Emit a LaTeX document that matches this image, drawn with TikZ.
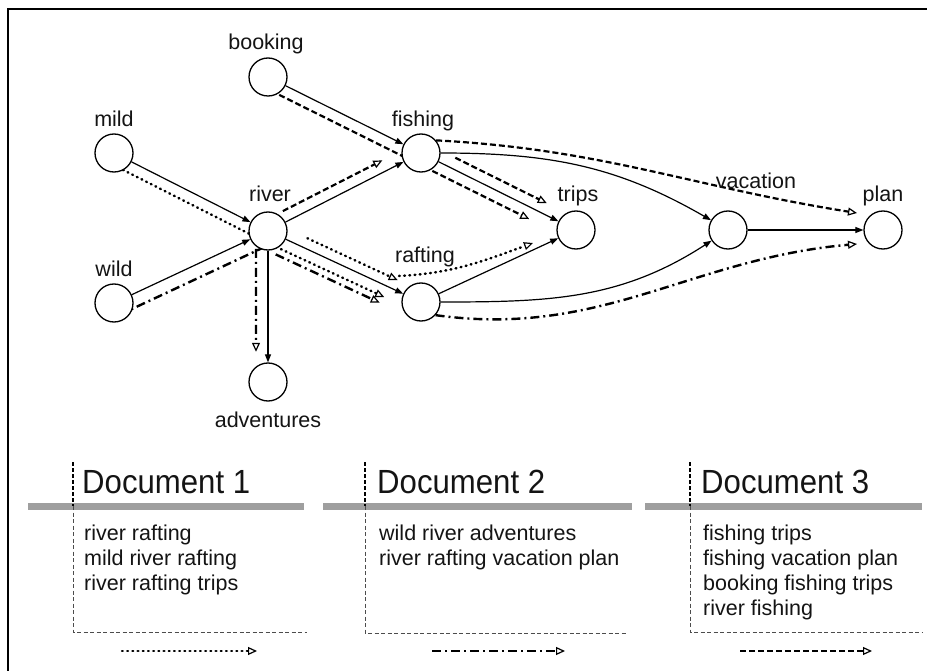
\documentclass[tikz,border=0pt]{standalone}
\usepackage{fontspec}
\setmainfont{Liberation Sans}
\newfontfamily\titlefont[FakeStretch=0.93]{Liberation Sans}
\usetikzlibrary{arrows.meta,calc}
\pgfdeclarelayer{bg}
\pgfsetlayers{bg,main}
\tikzset{
  word/.style={circle,draw=black,line width=1.3pt,minimum size=38pt,inner sep=0pt,fill=white},
  lbl/.style={font=\fontsize{21.5}{25}\selectfont,inner sep=0pt,text=black!92,anchor=base},
  listtext/.style={font=\fontsize{21.5}{25}\selectfont,inner sep=0pt,text=black!92,anchor=base west},
  doctitle/.style={font=\titlefont\fontsize{33.5}{40}\selectfont,inner sep=0pt,text=black!92,anchor=base west},
  link/.style={line width=1.2pt,-{Triangle[length=8pt,width=6pt]}},
  doctip/.style={-{Triangle[open,length=9pt,width=8pt,line width=1.2pt]}},
  dotpath/.style={line width=2.5pt,line cap=round,dash pattern=on 0.8pt off 4.4pt},
  dashdotpath/.style={line width=2.4pt,dash pattern=on 9pt off 4pt on 2pt off 4pt},
  dashpath/.style={line width=2.2pt,dash pattern=on 6pt off 3pt},
  grayrule/.style={line width=7pt,gray!75},
  topdash/.style={line width=1.6pt,dash pattern=on 4pt off 2pt},
  boxdash/.style={line width=0.8pt,black!70,dash pattern=on 4pt off 2.5pt}
}
\begin{document}
\begin{tikzpicture}[x=1pt,y=-1pt]
\useasboundingbox (0,0) rectangle (927,671);
% frame
\draw[line width=2.5pt] (8,671) -- (8,9) -- (927,9);

% word nodes
\node[word] (booking) at (268,77) {};
\node[word] (mild) at (114,153) {};
\node[word] (wild) at (114,303) {};
\node[word] (river) at (268,231) {};
\node[word] (fishing) at (421,153) {};
\node[word] (trips) at (576,230) {};
\node[word] (rafting) at (421,302) {};
\node[word] (adventures) at (268,382) {};
\node[word] (vacation) at (728,230) {};
\node[word] (plan) at (883,230) {};

% labels
\node[lbl] (lbooking) at (266,50) {booking};
\node[lbl] (lmild) at (114,127) {mild};
\node[lbl] (lwild) at (114,277) {wild};
\node[lbl] (lriver) at (270,202) {river};
\node[lbl] (lfishing) at (423,127) {fishing};
\node[lbl] (ltrips) at (578,202) {trips};
\node[lbl] (lrafting) at (425,263) {rafting};
\node[lbl] (ladventures) at (268,427) {adventures};
\node[lbl] (lvacation) at (756,189) {vacation};
\node[lbl] (lplan) at (883,202) {plan};

% solid graph edges
\draw[link] (booking) -- (fishing);
\draw[link] (mild) -- (river);
\draw[link] (wild) -- (river);
\draw[link] (river) -- (fishing);
\draw[link] (river) -- (rafting);
\draw[link] (river) -- (adventures);
\draw[link] (fishing) -- (trips);
\draw[link] (rafting) -- (trips);
\draw[link] (fishing) to[out=0,in=150] (vacation);
\draw[link] (rafting) to[out=0,in=213] (vacation);
\draw[link] (vacation) -- (plan);

\begin{pgfonlayer}{bg}
\fill[white] (0,0) rectangle (927,671);
% Document 1 (dotted)
\draw[dotpath,doctip] ($(mild)!11pt!-90:(river)$) -- ($(river)!11pt!90:(mild)$) -- ($(river)!11pt!-90:(rafting)$) -- ($(river)!0.79!(rafting)!11pt!-90:(rafting)$);
\draw[dotpath,doctip] ($(river)!0.23!(rafting)!10pt!90:(rafting)$) -- ($(river)!0.82!(rafting)!10pt!90:(rafting)$);
\draw[dotpath,doctip] ($(rafting)+(-22,-26)$) to[out=3,in=200] ($(trips)+(-43,13)$);
% Document 2 (dash-dot)
\draw[dashdotpath,doctip] ($(wild)!13pt!-90:(river)$) -- ($(river)!13pt!90:(wild)$) -- ($(river)!12pt!-90:(adventures)$) -- ($(river)!0.8!(adventures)!12pt!-90:(adventures)$);
\draw[dashdotpath,doctip] ($(river)!0.1!(rafting)!18pt!-90:(rafting)$) -- ($(river)!0.78!(rafting)!18pt!-90:(rafting)$);
\draw[dashdotpath,doctip] (rafting.-42) to[out=-8,in=185] ($(plan)+(-26,14)$);
% Document 3 (dashed)
\draw[dashpath,doctip] ($(booking)!11pt!-90:(fishing)$) -- ($(fishing)!11pt!90:(booking)$) -- ($(fishing)!11pt!-90:(trips)$) -- ($(fishing)!0.73!(trips)!11pt!-90:(trips)$);
\draw[dashpath,doctip] ($(river)!0.13!(fishing)!11pt!90:(fishing)$) -- ($(river)!0.78!(fishing)!11pt!90:(fishing)$);
\draw[dashpath,doctip] ($(fishing)!0.19!(trips)!11pt!90:(trips)$) -- ($(fishing)!0.78!(trips)!11pt!90:(trips)$);
\draw[dashpath,doctip] (fishing.40) to[out=-3,in=171] ($(plan)+(-26,-17)$);
\end{pgfonlayer}

% Panel 1
\draw[grayrule] (28,506) -- (304,506);
\draw[topdash] (73,462) -- (73,506);
\draw[boxdash] (73,506) -- (73,632) -- (307,632);
\node[doctitle] (doc1) at (82,493) {Document 1};
\node[listtext] (d1a) at (84,540) {river rafting};
\node[listtext] (d1b) at (84,565) {mild river rafting};
\node[listtext] (d1c) at (84,590) {river rafting trips};
\coordinate (k1a) at (122,651);
\coordinate (k1b) at (257,651);
\draw[dotpath,doctip] (k1a) -- (k1b);

% Panel 2
\draw[grayrule] (323,506) -- (632,506);
\draw[topdash] (365,462) -- (365,506);
\draw[boxdash] (365,506) -- (365,633) -- (627,633);
\node[doctitle] (doc2) at (377,493) {Document 2};
\node[listtext] (d2a) at (379,540) {wild river adventures};
\node[listtext] (d2b) at (379,565) {river rafting vacation plan};
\coordinate (k2a) at (432,651);
\coordinate (k2b) at (565,651);
\draw[dashdotpath,doctip] (k2a) -- (k2b);

% Panel 3
\draw[grayrule] (645,506) -- (922,506);
\draw[topdash] (690,462) -- (690,506);
\draw[boxdash] (690,506) -- (690,632) -- (923,632);
\node[doctitle] (doc3) at (701,493) {Document 3};
\node[listtext] (d3a) at (703,540) {fishing trips};
\node[listtext] (d3b) at (703,565) {fishing vacation plan};
\node[listtext] (d3c) at (703,590) {booking fishing trips};
\node[listtext] (d3d) at (703,615) {river fishing};
\coordinate (k3a) at (740,651);
\coordinate (k3b) at (872,651);
\draw[dashpath,doctip] (k3a) -- (k3b);
\end{tikzpicture}
\end{document}
